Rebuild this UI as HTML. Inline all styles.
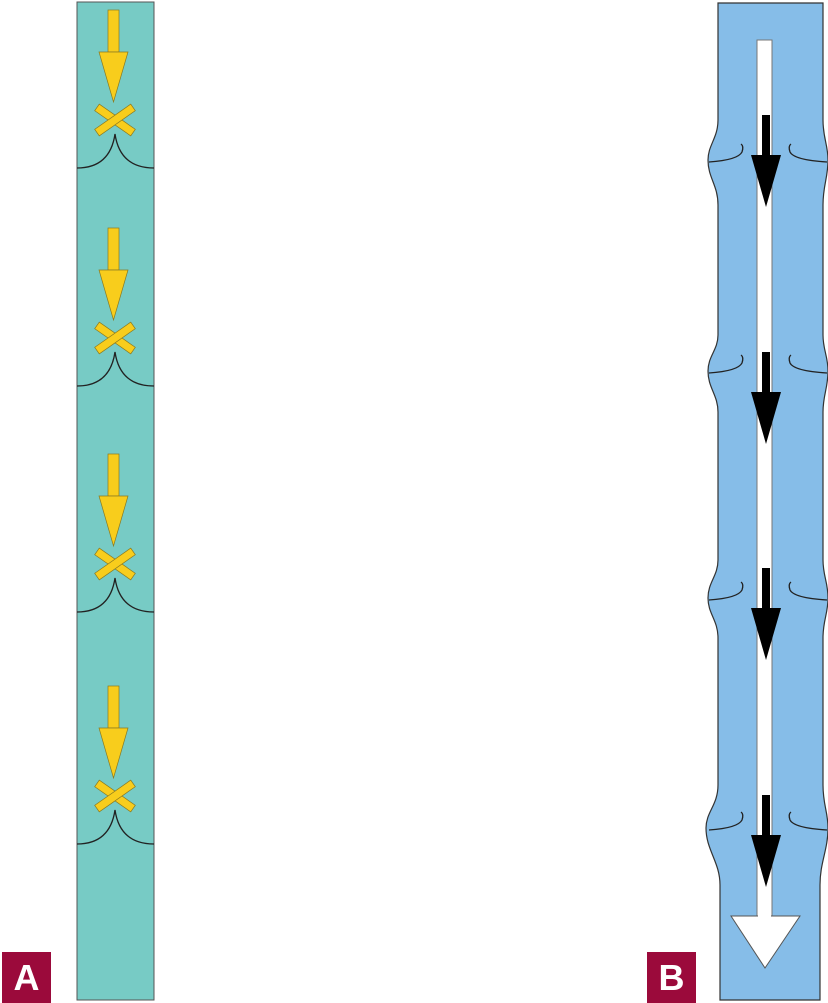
<!DOCTYPE html>
<html><head><style>
html,body{margin:0;padding:0;background:#fff;width:828px;height:1003px;overflow:hidden}
.lab{position:absolute;width:49px;height:51px;background:#9b0a3b;color:#fff;font:bold 36px "Liberation Sans",sans-serif;text-align:center;line-height:51px;top:952px}
</style></head><body>
<svg width="828" height="1003" style="position:absolute;left:0;top:0">
<defs>
<g id="ya">
<rect x="108" y="0" width="11" height="42" fill="#f8cd1c" stroke="#8a7a20" stroke-width="0.7"/>
<polygon points="99,42 128,42 113.5,92" fill="#f8cd1c" stroke="#8a7a20" stroke-width="0.7"/>
<g transform="translate(115,110)">
<rect x="-22" y="-4" width="44" height="8" fill="#f8cd1c" stroke="#8a7a20" stroke-width="0.7" transform="rotate(35)"/>
<rect x="-22" y="-4" width="44" height="8" fill="#f8cd1c" stroke="#8a7a20" stroke-width="0.7" transform="rotate(-35)"/>
</g>
<path d="M77,158 Q110,158 115,124 Q120,158 154,158" fill="none" stroke="#222" stroke-width="1.3"/>
</g>
<g id="ba">
<rect x="762" y="0" width="8" height="42" fill="#000"/>
<polygon points="751,40 781,40 766,92" fill="#000"/>
</g>
<g id="jm">
<path d="M709,2 Q738,0 742,-8 Q744,-14 741,-16" fill="none" stroke="#222" stroke-width="1.3"/>
<path d="M827,2 Q794,0 790,-8 Q788,-14 791,-16" fill="none" stroke="#222" stroke-width="1.3"/>
</g>
</defs>
<rect x="77" y="2" width="77" height="998" fill="#77cbc5" stroke="#555" stroke-width="1"/>
<use href="#ya" x="0" y="10"/>
<use href="#ya" x="0" y="228"/>
<use href="#ya" x="0" y="454"/>
<use href="#ya" x="0" y="686"/>
<path d="M718,3 L718,120 C718,138 708,145 708,160 C708,178 718,185 718,205
L718,335 C718,350 708,356 708,371 C708,388 718,395 718,412
L718,560 C718,576 708,582 708,598 C708,614 718,620 718,638
L718,785 C718,805 706,812 706,828 C706,850 720,862 720,885 L720,1000
L820,1000 L820,885 C820,862 828,850 828,828 C828,812 823,805 823,785
L823,638 C823,620 828,614 828,598 C828,582 823,576 823,560
L823,412 C823,395 828,388 828,371 C828,356 823,350 823,335
L823,205 C823,185 828,178 828,160 C828,145 823,138 823,120 L823,3 Z" fill="#86bde8" stroke="#333" stroke-width="1.2"/>
<rect x="757" y="40" width="15" height="880" fill="#fff" stroke="#777" stroke-width="1"/>
<polygon points="731,916 800,916 765,968" fill="#fff" stroke="#555" stroke-width="1"/>
<rect x="758" y="910" width="13" height="10" fill="#fff"/>
<use href="#jm" x="0" y="160"/>
<use href="#jm" x="0" y="371"/>
<use href="#jm" x="0" y="598"/>
<use href="#jm" x="0" y="828"/>
<use href="#ba" x="0" y="115"/>
<use href="#ba" x="0" y="352"/>
<use href="#ba" x="0" y="568"/>
<use href="#ba" x="0" y="795"/>
</svg>
<div class="lab" style="left:2px">A</div>
<div class="lab" style="left:647px">B</div>
</body></html>
